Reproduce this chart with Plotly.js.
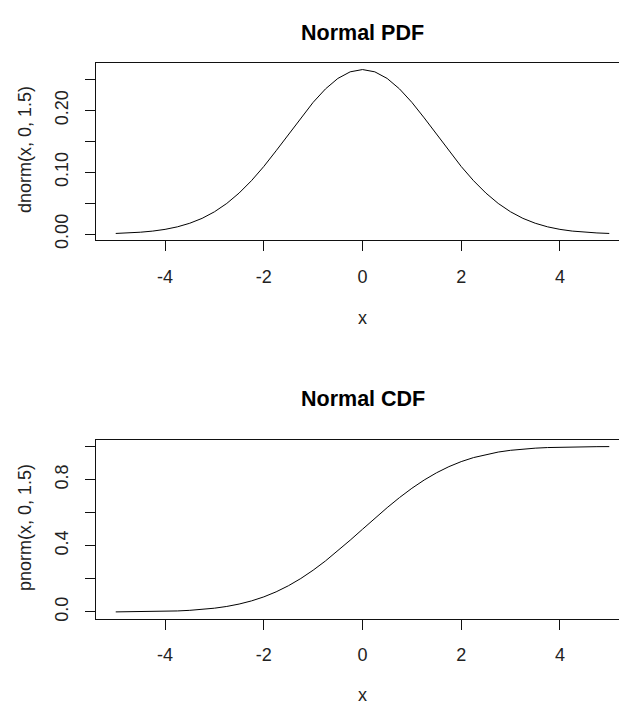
<!DOCTYPE html>
<html><head><meta charset="utf-8">
<script src="https://cdn.plot.ly/plotly-3.0.1.min.js"></script>
<style>html,body{margin:0;padding:0;overflow:hidden;background:#fff}#chart{width:650px;height:705px}</style>
</head><body><div id="chart"></div>
<script>
const xValues = [-5,-4.75,-4.5,-4.25,-4,-3.75,-3.5,-3.25,-3,-2.75,-2.5,-2.25,-2,-1.75,-1.5,-1.25,-1,-0.75,-0.5,-0.25,0,0.25,0.5,0.75,1,1.25,1.5,1.75,2,2.25,2.5,2.75,3,3.25,3.5,3.75,4,4.25,4.5,4.75,5];
const pdfValues = [0.0010,0.0018,0.0030,0.0048,0.0076,0.0117,0.0175,0.0254,0.0360,0.0495,0.0663,0.0863,0.1093,0.1347,0.1613,0.1879,0.2130,0.2347,0.2516,0.2623,0.2660,0.2623,0.2516,0.2347,0.2130,0.1879,0.1613,0.1347,0.1093,0.0863,0.0663,0.0495,0.0360,0.0254,0.0175,0.0117,0.0076,0.0048,0.0030,0.0018,0.0010];
const cdfValues = [0.0004,0.0008,0.0013,0.0023,0.0038,0.0062,0.0098,0.0151,0.0228,0.0334,0.0478,0.0668,0.0912,0.1217,0.1587,0.2023,0.2525,0.3085,0.3694,0.4338,0.5000,0.5662,0.6306,0.6915,0.7475,0.7977,0.8413,0.8783,0.9088,0.9332,0.9522,0.9666,0.9772,0.9849,0.9902,0.9938,0.9962,0.9977,0.9987,0.9992,0.9996];
const xTickVals = [-4,-2,0,2,4];
const xTickText = ['-4','-2','0','2','4'];
const pdfTickVals = [0,0.05,0.1,0.15,0.2,0.25];
const pdfTickText = ['0.00','','0.10','','0.20',''];
const cdfTickVals = [0,0.2,0.4,0.6,0.8,1.0];
const cdfTickText = ['0.0','','0.4','','0.8',''];
const titles = ['Normal PDF','Normal CDF'];
const yLabels = ['dnorm(x, 0, 1.5)','pnorm(x, 0, 1.5)'];
const xLabel = 'x';

const FONT = 'Liberation Sans, Arial, sans-serif';
const INK = '#222';
const line = {color:'#000', width:1};

const axisBase = {
  showline:true, mirror:true, linecolor:'#111', linewidth:1,
  ticks:'outside', ticklen:10, tickwidth:1, tickcolor:'#111',
  showgrid:false, zeroline:false, ticklabelstandoff:10,
  tickfont:{family:FONT, size:18, color:INK}
};

const data = [
  {x:xValues, y:pdfValues, type:'scatter', mode:'lines', line:line, xaxis:'x', yaxis:'y', hoverinfo:'skip'},
  {x:xValues, y:cdfValues, type:'scatter', mode:'lines', line:line, xaxis:'x2', yaxis:'y2', hoverinfo:'skip'}
];

const H = 705;
const layout = {
  width:650, height:H,
  margin:{l:96, r:21, t:0, b:0},
  paper_bgcolor:'#fff', plot_bgcolor:'#fff',
  showlegend:false,
  xaxis: Object.assign({}, axisBase, {domain:[0,1], anchor:'y', range:[-5.4,5.4], tickmode:'array', tickvals:xTickVals, ticktext:xTickText}),
  yaxis: Object.assign({}, axisBase, {domain:[1-240/H, 1-63/H], anchor:'x', range:[-0.0096,0.2766], tickmode:'array', tickvals:pdfTickVals, ticktext:pdfTickText, tickangle:-90}),
  xaxis2: Object.assign({}, axisBase, {domain:[0,1], anchor:'y2', range:[-5.4,5.4], tickmode:'array', tickvals:xTickVals, ticktext:xTickText}),
  yaxis2: Object.assign({}, axisBase, {domain:[1-618.5/H, 1-440/H], anchor:'x2', range:[-0.0395,1.0395], tickmode:'array', tickvals:cdfTickVals, ticktext:cdfTickText, tickangle:-90}),
  annotations:[
    {text:titles[0], xref:'paper', yref:'paper', x:0.5, y:1-33/H, xanchor:'center', yanchor:'middle', showarrow:false, font:{family:FONT, size:21.5, color:'#000', weight:'bold'}},
    {text:titles[1], xref:'paper', yref:'paper', x:0.5, y:1-399/H, xanchor:'center', yanchor:'middle', showarrow:false, font:{family:FONT, size:21.5, color:'#000', weight:'bold'}},
    {text:xLabel, xref:'paper', yref:'paper', x:0.5, y:1-318/H, xanchor:'center', yanchor:'middle', showarrow:false, font:{family:FONT, size:18, color:INK}},
    {text:xLabel, xref:'paper', yref:'paper', x:0.5, y:1-695/H, xanchor:'center', yanchor:'middle', showarrow:false, font:{family:FONT, size:18, color:INK}},
    {text:yLabels[0], xref:'paper', yref:'paper', x:(25-96)/533, y:1-150/H, xanchor:'center', yanchor:'middle', textangle:-90, showarrow:false, font:{family:FONT, size:18, color:INK}},
    {text:yLabels[1], xref:'paper', yref:'paper', x:(25-96)/533, y:1-528/H, xanchor:'center', yanchor:'middle', textangle:-90, showarrow:false, font:{family:FONT, size:18, color:INK}}
  ]
};

Plotly.newPlot('chart', data, layout, {staticPlot:true, displayModeBar:false});
</script>
</body></html>
